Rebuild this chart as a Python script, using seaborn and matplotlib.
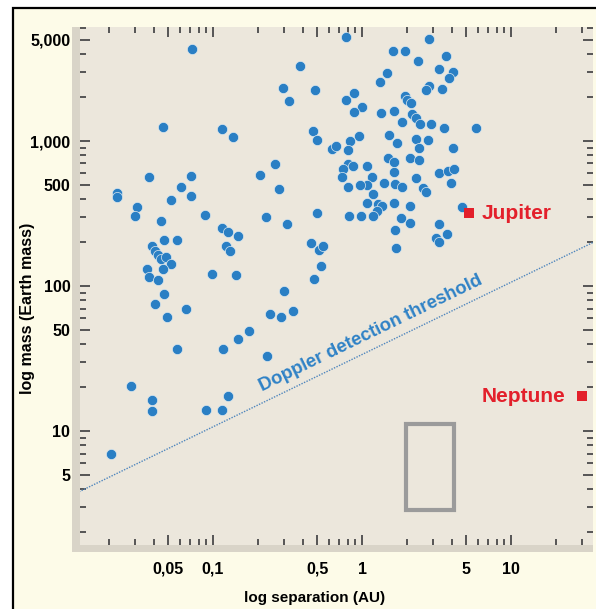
import numpy as np
import pandas as pd
import matplotlib
matplotlib.use("Agg")
import matplotlib.pyplot as plt
import seaborn as sns
from matplotlib.patches import Rectangle
from matplotlib.ticker import LogLocator, NullFormatter

# planets: separation (AU) and mass (Earth masses)
sep_au = [0.072, 0.046, 0.115, 0.136, 0.037, 0.071, 0.061, 0.071, 0.0227, 0.0227,
          0.052, 0.031, 0.030, 0.088, 0.045, 0.115, 0.126, 0.147, 0.047, 0.057,
          0.122, 0.130, 0.039, 0.041, 0.043, 0.045, 0.048, 0.052, 0.046, 0.036,
          0.037, 0.043, 0.099, 0.143, 0.047, 0.041, 0.066, 0.049, 0.057, 0.117,
          0.147, 0.174, 0.241, 0.286, 0.344, 0.230, 0.028, 0.039, 0.039, 0.090,
          0.115, 0.126, 0.0207,
          0.384, 0.295, 0.324, 0.484, 0.207, 0.261, 0.277, 0.227, 0.314, 0.499,
          0.455, 0.514, 0.547, 0.531, 0.476, 0.300, 0.469, 0.499,
          0.781, 2.82, 1.61, 1.94, 2.38, 3.66, 3.29, 4.08, 3.84, 1.47,
          1.32, 2.82, 2.69, 3.44, 0.884, 0.781, 1.00, 0.884, 1.94, 2.00,
          2.13, 1.34, 1.64, 2.17, 2.30, 2.45, 1.86, 2.90, 3.55, 5.82,
          1.52, 0.955, 0.830, 0.629, 0.669, 1.72, 2.30, 2.77, 2.41, 4.08,
          0.805, 1.49, 1.64, 2.10, 2.41, 0.805, 0.870, 0.746, 0.734, 1.08,
          1.17, 1.08, 0.97, 0.805, 1.64, 2.30, 3.29, 3.78, 4.14, 3.96,
          1.41, 1.66, 1.86, 2.57, 2.69, 1.19, 1.08, 1.28, 1.36, 1.26,
          1.64, 2.10, 4.69, 0.818, 0.985, 1.19, 1.83, 2.10, 1.66, 3.29,
          3.72, 3.14, 3.29, 1.69]
mass_earth = [4300, 1250, 1210, 1070, 565, 574, 482, 418, 438, 411,
              392, 351, 304, 309, 281, 251, 236, 221, 208, 208,
              189, 174, 189, 174, 164, 153, 158, 142, 131, 131,
              115, 110, 121, 119, 88, 75, 70, 61, 37, 37,
              43, 49, 64, 61, 67, 33, 20.4, 16.4, 13.7, 14.0,
              14.0, 17.4, 6.9,
              3290, 2320, 1890, 2250, 583, 693, 467, 299, 268, 318,
              198, 177, 189, 137, 112, 92, 1170, 1017,
              5210, 5050, 4180, 4180, 3570, 3860, 3140, 2990, 2720, 2940,
              2550, 2390, 2250, 2290, 2140, 1920, 1710, 1585, 2040, 1920,
              1830, 1560, 1610, 1535, 1440, 1310, 1350, 1310, 1230, 1230,
              1100, 1080, 1000, 881, 925, 968, 1032, 1017, 895, 895,
              867, 764, 716, 764, 740, 693, 672, 641, 565, 672,
              565, 498, 498, 482, 611, 556, 601, 621, 641, 513,
              513, 505, 482, 474, 445, 431, 373, 368, 356, 329,
              373, 356, 351, 304, 304, 304, 294, 272, 243, 268,
              229, 214, 201, 183]

planet_names = ["Jupiter", "Neptune"]
planet_sep = [5.2, 30]
planet_mass = [318, 17.4]

threshold_sep = [0.01, 40]
threshold_mass = [3.4, 212]

box_sep = [1.97, 4.14]
box_mass = [2.85, 11.2]

x_ticks = [0.05, 0.1, 0.5, 1, 5, 10]
x_labels = ["0,05", "0,1", "0,5", "1", "5", "10"]
y_ticks = [5, 10, 50, 100, 500, 1000, 5000]
y_labels = ["5", "10", "50", "100", "500", "1,000", "5,000"]

df = pd.DataFrame({"sep": sep_au, "mass": mass_earth})
thr = pd.DataFrame({"sep": threshold_sep, "mass": threshold_mass})

plt.rcParams["font.family"] = ["Liberation Sans", "DejaVu Sans"]

W, H = 596, 609
fig = plt.figure(figsize=(W / 100, H / 100), dpi=100, facecolor="white")

# cream page with black frame
fig.patches.append(Rectangle((13 / W, -0.1), 1.2, 1.1 - 8 / H, transform=fig.transFigure,
                             facecolor="#fdfbe8", edgecolor="black", linewidth=1.6, zorder=-3))
# darker strips at left and bottom of the plot
fig.patches.append(Rectangle((72 / W, (H - 552) / H), 8 / W, 525 / H, transform=fig.transFigure,
                             facecolor="#d9d4c8", edgecolor="none", zorder=-2))
fig.patches.append(Rectangle((72 / W, (H - 552) / H), 521 / W, 7 / H, transform=fig.transFigure,
                             facecolor="#d9d4c8", edgecolor="none", zorder=-2))

ax = fig.add_axes([80 / W, (H - 545) / H, 513 / W, 518 / H])
ax.set_zorder(1)
ax.set_facecolor("#ece7dc")
ax.set_xscale("log")
ax.set_yscale("log")

sns.lineplot(data=thr, x="sep", y="mass", ax=ax, color="#4f86bd", linestyle=(0, (1, 1)),
             linewidth=1.0, zorder=2)
sns.scatterplot(data=df, x="sep", y="mass", ax=ax, color="#2a7fc4", s=54,
                edgecolor="#dde8ee", linewidth=0.5, zorder=3)
sns.scatterplot(x=planet_sep, y=planet_mass, ax=ax, marker="s", color="#e3202b", s=50,
                linewidth=0, zorder=4)

ax.add_patch(Rectangle((box_sep[0], box_mass[0]), box_sep[1] - box_sep[0], box_mass[1] - box_mass[0],
                       facecolor="none", edgecolor="#9b9b9b", linewidth=3, zorder=2))

ax.annotate(planet_names[0], (planet_sep[0], planet_mass[0]), xytext=(9, 0), textcoords="offset points",
            ha="left", va="center", color="#e3202b", fontsize=15, fontweight="bold")
ax.annotate(planet_names[1], (planet_sep[1], planet_mass[1]), xytext=(-12, 0), textcoords="offset points",
            ha="right", va="center", color="#e3202b", fontsize=15, fontweight="bold")

ax.text(1.15, 47, "Doppler detection threshold", rotation=26, ha="center", va="center",
        color="#2f82c6", fontsize=13.3, fontweight="bold", rotation_mode="anchor")

ax.set_xlim(0.0128, 35.5)
ax.set_ylim(1.64, 6110)

ax.set_xticks(x_ticks)
ax.set_xticklabels(x_labels)
ax.set_yticks(y_ticks)
ax.set_yticklabels(y_labels)
ax.xaxis.set_minor_locator(LogLocator(base=10, subs=(2, 3, 4, 6, 7, 8, 9)))
ax.yaxis.set_minor_locator(LogLocator(base=10, subs=(2, 3, 4, 6, 7, 8, 9)))
ax.xaxis.set_minor_formatter(NullFormatter())
ax.yaxis.set_minor_formatter(NullFormatter())

ax.tick_params(which="both", direction="in", top=True, right=True, color="#555555")
ax.tick_params(which="major", length=7.5, width=1.4)
ax.tick_params(which="minor", length=4, width=1.4)
ax.tick_params(axis="x", which="major", pad=12, labelsize=11.5)
ax.tick_params(axis="y", which="major", pad=7, labelsize=11.5)
for lab in ax.get_xticklabels() + ax.get_yticklabels():
    lab.set_fontweight("bold")

for sp in ax.spines.values():
    sp.set_visible(False)

ax.set_xlabel("log separation (AU)", fontsize=11, fontweight="bold", va="center")
ax.set_ylabel("log mass (Earth mass)", fontsize=11.5, fontweight="bold", va="center")
ax.xaxis.set_label_coords((315 - 80) / 513, -(598 - 545) / 518)
ax.yaxis.set_label_coords((28 - 80) / 513, (545 - 308) / 518)

fig.savefig("out.png", dpi=100, facecolor=fig.get_facecolor())
